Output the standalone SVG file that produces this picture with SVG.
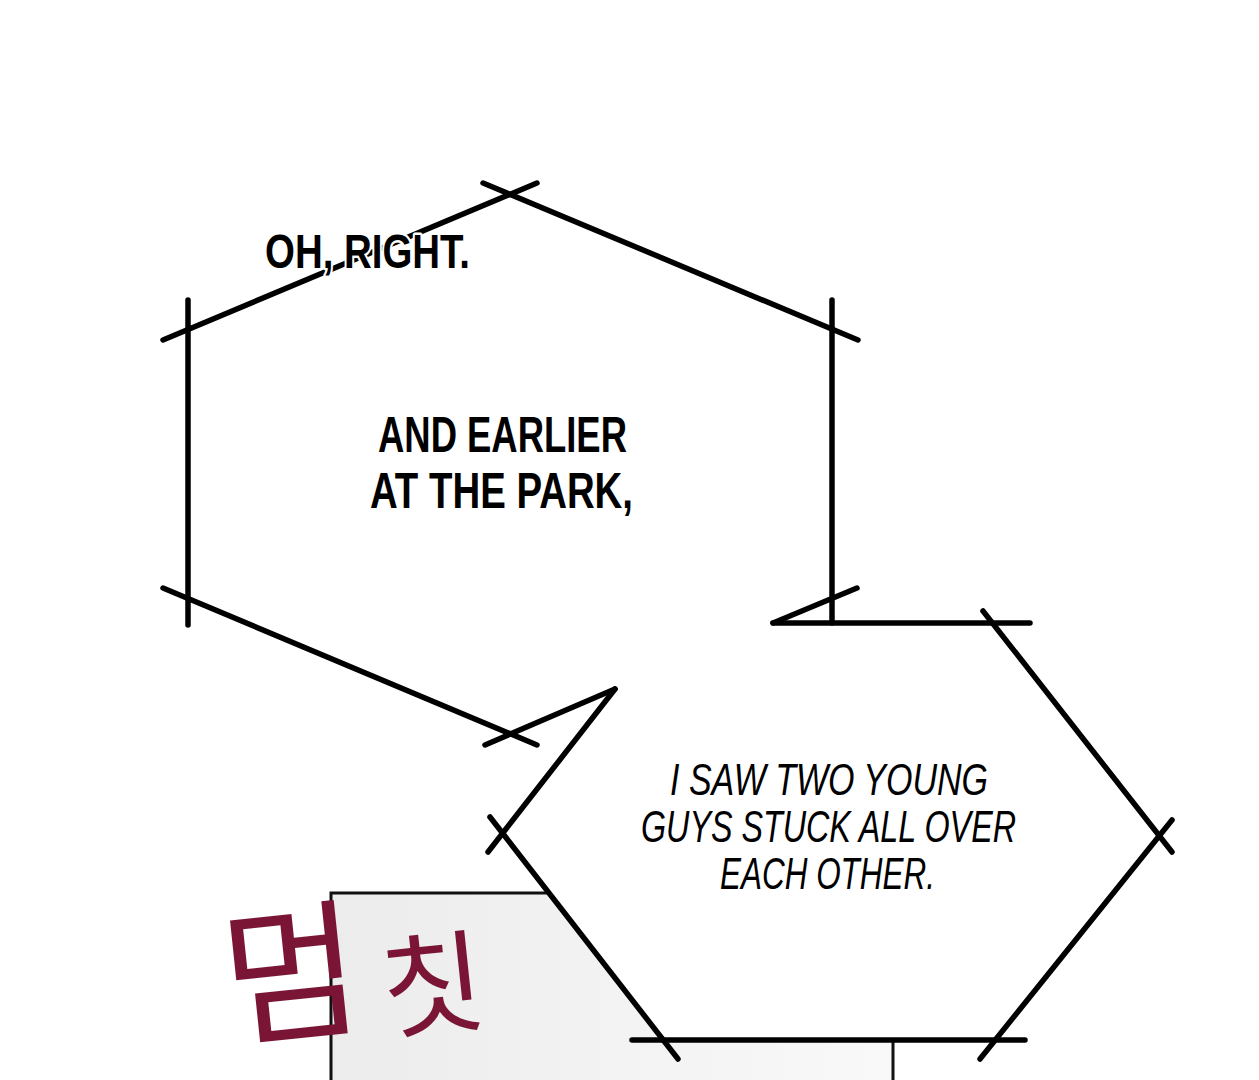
<svg xmlns="http://www.w3.org/2000/svg" width="1259" height="1080" viewBox="0 0 1259 1080">
<defs>
<linearGradient id="pg" x1="0" y1="0" x2="1" y2="0">
<stop offset="0" stop-color="#ececec"/>
<stop offset="1" stop-color="#f9f9f9"/>
</linearGradient>
<style>
.ln{stroke:#000;stroke-width:5.5;stroke-linecap:round;fill:none}
.t{font-family:"Liberation Sans",Arial,sans-serif;font-weight:bold;fill:#000;stroke:#fff;stroke-width:5;paint-order:stroke;stroke-linejoin:round}
.ti{font-style:italic;font-weight:normal}
.kr{font-family:"Noto Sans CJK KR",sans-serif;fill:#7a1535;font-weight:400}
</style>
</defs>
<rect width="1259" height="1080" fill="#fff"/>
<g id="panel">
<rect x="331" y="893" width="562" height="200" fill="url(#pg)" stroke="#111" stroke-width="3"/>
</g>
<g id="sfx">
<text class="kr" transform="rotate(-6 300 1000)"><tspan x="225" y="1028" font-size="150">멈</tspan><tspan x="382" y="1040" font-size="112">칫</tspan></text>
</g>
<g id="bubble2-fill">
<polygon points="502,832 660,1040 993,1040 1158,837 992,623 773,623 615,689" fill="#fff"/>
</g>
<g id="connectors">
<line class="ln" x1="163" y1="340" x2="537" y2="183"/>
<line class="ln" x1="483" y1="183" x2="858" y2="340"/>
<line class="ln" x1="188" y1="300" x2="188" y2="625"/>
<line class="ln" x1="832" y1="300" x2="832" y2="623"/>
<line class="ln" x1="163" y1="588" x2="537" y2="745"/>
<line class="ln" x1="485" y1="745" x2="615" y2="689"/>
<line class="ln" x1="773" y1="623" x2="857" y2="588"/>
<line class="ln" x1="773" y1="623" x2="1030" y2="623"/>
<line class="ln" x1="983" y1="611" x2="1172" y2="852"/>
<line class="ln" x1="1172" y1="820" x2="980" y2="1059"/>
<line class="ln" x1="632" y1="1040" x2="1025" y2="1040"/>
<line class="ln" x1="490" y1="817" x2="678" y2="1059"/>
<line class="ln" x1="615" y1="689" x2="488" y2="852"/>
</g>
<g id="bubble1">
<text class="t" x="265" y="268" font-size="48" textLength="205" lengthAdjust="spacingAndGlyphs">OH, RIGHT.</text>
<text class="t" x="378" y="452" font-size="50" textLength="249" lengthAdjust="spacingAndGlyphs">AND EARLIER</text>
<text class="t" x="370" y="508" font-size="50" textLength="263" lengthAdjust="spacingAndGlyphs">AT THE PARK,</text>
</g>
<g id="bubble2">
<text class="t ti" x="670" y="795" font-size="45" textLength="318" lengthAdjust="spacingAndGlyphs">I SAW TWO YOUNG</text>
<text class="t ti" x="641" y="842" font-size="45" textLength="375" lengthAdjust="spacingAndGlyphs">GUYS STUCK ALL OVER</text>
<text class="t ti" x="720" y="889" font-size="45" textLength="215" lengthAdjust="spacingAndGlyphs">EACH OTHER.</text>
</g>
</svg>
